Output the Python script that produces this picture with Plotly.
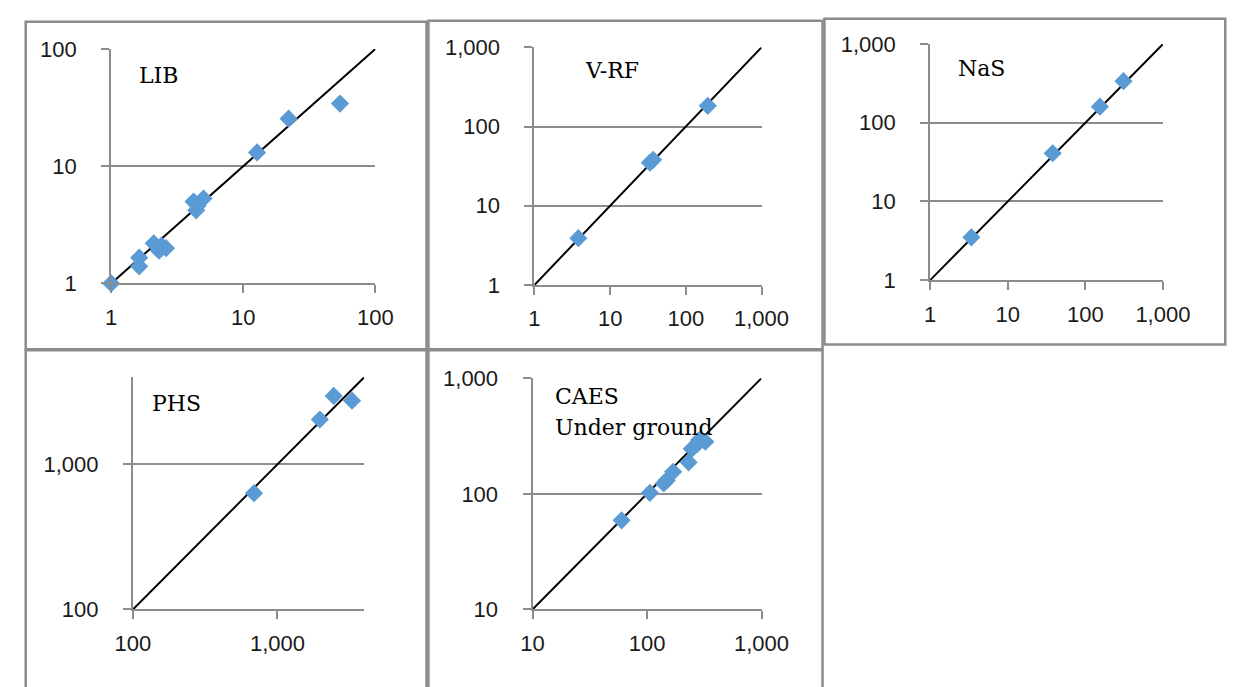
import math
import plotly.graph_objects as go

W, H = 1260, 687

# ---------------- data ----------------
lib_x = [1.0, 1.63, 1.63, 2.1, 2.3, 2.4, 2.6, 4.2, 4.4, 4.5, 5.0, 12.7, 22.0, 53.9]
lib_y = [1.0, 1.66, 1.40, 2.2, 1.9, 2.1, 2.0, 5.0, 4.2, 4.6, 5.3, 13.1, 25.4, 34.2]

vrf_x = [3.8, 33.5, 37.0, 195.0]
vrf_y = [3.9, 35.0, 38.0, 183.0]

nas_x = [3.4, 38.0, 154.0, 310.0]
nas_y = [3.5, 41.0, 160.0, 338.0]

phs_x = [688, 1964, 2449, 3280]
phs_y = [632, 2036, 2958, 2742]

caes_x = [60, 106, 140, 149, 169, 231, 246, 275, 285, 323]
caes_y = [59, 102, 123, 131, 155, 187, 245, 270, 292, 282]

lib_ticks = [1, 10, 100]
lib_ticktext = ["1", "10", "100"]
k_ticks = [1, 10, 100, 1000]
k_ticktext = ["1", "10", "100", "1,000"]
phs_ticks = [100, 1000]
phs_ticktext = ["100", "1,000"]
caes_ticks = [10, 100, 1000]
caes_ticktext = ["10", "100", "1,000"]

lib_range = [1, 100]
vrf_range = [1, 1000]
nas_range = [1, 1000]
phs_range = [100, 3981]
caes_range = [10, 1000]

labels = ["LIB", "V-RF", "NaS", "PHS", "CAES", "Under ground"]

# ---------------- layout helpers ----------------
GREY = "#8c8c8c"
BLUE = "#5B9BD5"
TICKFONT = dict(family="Liberation Sans", size=22, color="#1a1a1a")
LABELFONT = dict(family="DejaVu Serif", size=22, color="#000000")

# panels: (x values, y values, range, tickvals, ticktext, plot box px [left, right, top, bottom])
panels = [
    (lib_x, lib_y, lib_range, lib_ticks, lib_ticktext, (96.7, 371.0, 38.3, 281.7)),
    (vrf_x, vrf_y, vrf_range, k_ticks, k_ticktext, (536.0, 771.7, 36.7, 283.3)),
    (nas_x, nas_y, nas_range, k_ticks, k_ticktext, (946.7, 1188.3, 33.3, 278.3)),
    (phs_x, phs_y, phs_range, phs_ticks, phs_ticktext, (119.3, 359.3, 379.0, 620.0)),
    (caes_x, caes_y, caes_range, caes_ticks, caes_ticktext, (534.0, 771.7, 380.0, 620.0)),
]

fig = go.Figure()
layout = {}

for i, (xs, ys, rng, tv, tt, box) in enumerate(panels, start=1):
    xa = "x" if i == 1 else f"x{i}"
    ya = "y" if i == 1 else f"y{i}"
    l, r, t, b = box
    lr = [math.log10(rng[0]), math.log10(rng[1])]
    # diagonal reference line
    fig.add_trace(go.Scatter(x=rng, y=rng, mode="lines",
                             line=dict(color="black", width=2),
                             xaxis=xa, yaxis=ya, showlegend=False, hoverinfo="skip"))
    fig.add_trace(go.Scatter(x=xs, y=ys, mode="markers",
                             marker=dict(symbol="diamond", size=14, color=BLUE,
                                         line=dict(width=0)),
                             cliponaxis=False,
                             xaxis=xa, yaxis=ya, showlegend=False))
    xkey = "xaxis" if i == 1 else f"xaxis{i}"
    ykey = "yaxis" if i == 1 else f"yaxis{i}"
    layout[xkey] = dict(type="log", range=lr, domain=[l / W, r / W], anchor=ya,
                        showgrid=False, zeroline=False, showline=True,
                        linecolor=GREY, linewidth=2, ticks="outside", ticklen=8,
                        tickwidth=2, tickcolor=GREY, tickvals=tv, ticktext=tt,
                        tickfont=TICKFONT, ticklabelstandoff=5, fixedrange=True)
    layout[ykey] = dict(type="log", range=lr, domain=[1 - b / H, 1 - t / H], anchor=xa,
                        showgrid=True, gridcolor=GREY, gridwidth=2, zeroline=False,
                        showline=True, linecolor=GREY, linewidth=2, ticks="outside",
                        ticklen=8, tickwidth=2, tickcolor=GREY, tickvals=tv, ticktext=tt,
                        tickfont=TICKFONT, ticklabelstandoff=20, fixedrange=True)

# frames around panels (px: left, top, right, bottom)
frames = [
    (8, 10, 424, 350),
    (426, 9, 835, 350),
    (837, 7, 1253, 345),
    (8, 351, 424, 720),
    (426, 351, 835, 720),
]
shapes = []
for (l, t, r, b) in frames:
    shapes.append(dict(type="rect", xref="paper", yref="paper",
                       x0=l / W, x1=r / W, y0=1 - b / H, y1=1 - t / H,
                       line=dict(color=GREY, width=2.5), fillcolor="rgba(0,0,0,0)",
                       layer="below"))

# panel labels (px: left x, vertical centre y)
label_pos = [(123, 66), (586, 61), (974, 59), (137, 406), (555, 399), (555, 431)]
annotations = []
for text, (x, y) in zip(labels, label_pos):
    annotations.append(dict(text=text, xref="paper", yref="paper",
                            x=x / W, y=1 - y / H, xanchor="left", yanchor="middle",
                            showarrow=False, font=LABELFONT))

fig.update_layout(width=W, height=H, autosize=False,
                  margin=dict(l=0, r=0, t=0, b=0, pad=0),
                  paper_bgcolor="white", plot_bgcolor="white",
                  shapes=shapes, annotations=annotations, showlegend=False,
                  **layout)

fig.write_html("out.html",
               post_script="document.body.style.margin='0';"
                           "document.body.style.padding='0';"
                           "document.body.style.overflow='hidden';")
